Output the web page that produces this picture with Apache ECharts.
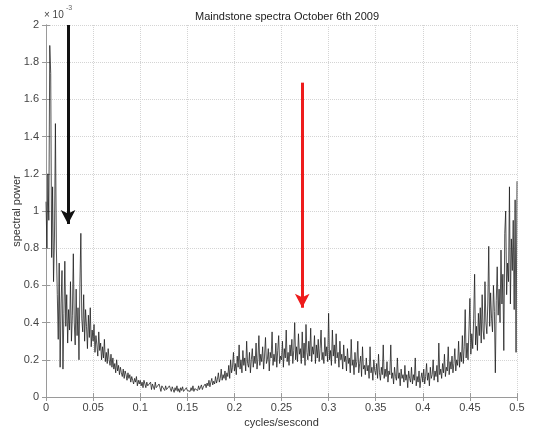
<!DOCTYPE html>
<html>
<head>
<meta charset="utf-8">
<script src="https://cdn.jsdelivr.net/npm/echarts@6/dist/echarts.min.js"></script>
<style>html,body{margin:0;padding:0;background:#fff;}#c{width:540px;height:432px;}</style>
</head>
<body>
<div id="c"></div>
<script>
// Spectral power (x 10^-3), sampled every FREQ_STEP cycles/second from 0 to 0.5
const FREQ_STEP = 0.001;
const powerValues = [
  1.05, 0.8, 1.2, 0.95, 1.89, 1.74, 0.75, 1.13, 0.62, 0.86,
  1.47, 0.8, 0.55, 0.31, 0.72, 0.16, 0.5, 0.68, 0.15, 0.45,
  0.73, 0.38, 0.55, 0.29, 0.47, 0.36, 0.62, 0.3, 0.44, 0.77,
  0.4, 0.28, 0.58, 0.33, 0.48, 0.2, 0.6, 0.88, 0.42, 0.35,
  0.55, 0.3, 0.47, 0.38, 0.26, 0.44, 0.32, 0.48, 0.27, 0.36,
  0.3, 0.39, 0.24, 0.33, 0.28, 0.22, 0.35, 0.25, 0.29, 0.2,
  0.27, 0.21, 0.31, 0.19, 0.24, 0.18, 0.26, 0.2, 0.17, 0.23,
  0.16, 0.21, 0.15, 0.18, 0.13, 0.2, 0.14, 0.17, 0.12, 0.16,
  0.13, 0.11, 0.15, 0.1, 0.14, 0.12, 0.09, 0.13, 0.1, 0.12,
  0.08, 0.11, 0.09, 0.07, 0.1, 0.08, 0.11, 0.06, 0.09, 0.07,
  0.09, 0.06, 0.08, 0.05, 0.09, 0.07, 0.05, 0.08, 0.06, 0.07,
  0.05, 0.08, 0.04, 0.07, 0.06, 0.04, 0.08, 0.05, 0.06, 0.04,
  0.07, 0.05, 0.03, 0.06, 0.05, 0.07, 0.035, 0.06, 0.04, 0.05,
  0.03, 0.06, 0.045, 0.03, 0.055, 0.04, 0.025, 0.05, 0.035, 0.06,
  0.03, 0.045, 0.025, 0.05, 0.035, 0.055, 0.03, 0.04, 0.02, 0.05,
  0.035, 0.025, 0.045, 0.03, 0.05, 0.035, 0.06, 0.03, 0.045, 0.04,
  0.055, 0.035, 0.06, 0.04, 0.05, 0.065, 0.04, 0.055, 0.045, 0.07,
  0.05, 0.075, 0.06, 0.09, 0.055, 0.08, 0.1, 0.065, 0.085, 0.07,
  0.11, 0.075, 0.095, 0.13, 0.08, 0.1, 0.15, 0.09, 0.12, 0.1,
  0.14, 0.09, 0.13, 0.11, 0.17, 0.1, 0.2, 0.13, 0.16, 0.24,
  0.14, 0.18, 0.12, 0.22, 0.16, 0.28, 0.15, 0.2, 0.13, 0.25,
  0.17, 0.21, 0.14, 0.3, 0.18, 0.16, 0.24, 0.13, 0.2, 0.26,
  0.16, 0.22, 0.18, 0.29, 0.15, 0.21, 0.33, 0.17, 0.23, 0.19,
  0.27, 0.15, 0.22, 0.32, 0.18, 0.2, 0.26, 0.14, 0.24, 0.21,
  0.35, 0.17, 0.23, 0.19, 0.29, 0.16, 0.25, 0.33, 0.18, 0.22,
  0.2, 0.3, 0.16, 0.26, 0.21, 0.36, 0.19, 0.24, 0.17, 0.28,
  0.22, 0.31, 0.18, 0.25, 0.4, 0.2, 0.27, 0.19, 0.34, 0.23,
  0.26, 0.18, 0.35, 0.21, 0.29, 0.17, 0.39, 0.24, 0.2, 0.3,
  0.22, 0.37, 0.19, 0.27, 0.23, 0.33, 0.18, 0.28, 0.21, 0.31,
  0.19, 0.26, 0.36, 0.2, 0.24, 0.18, 0.32, 0.22, 0.27, 0.19,
  0.45, 0.2, 0.25, 0.17, 0.36, 0.22, 0.28, 0.18, 0.34, 0.21,
  0.24, 0.16, 0.3, 0.2, 0.23, 0.15, 0.28, 0.19, 0.22, 0.14,
  0.26, 0.18, 0.21, 0.13, 0.31, 0.17, 0.2, 0.12, 0.24, 0.16,
  0.19, 0.3, 0.13, 0.18, 0.22, 0.11, 0.27, 0.15, 0.17, 0.12,
  0.21, 0.14, 0.17, 0.1, 0.27, 0.13, 0.16, 0.09, 0.2, 0.14,
  0.12, 0.18, 0.1, 0.23, 0.13, 0.09, 0.16, 0.12, 0.28, 0.1,
  0.15, 0.11, 0.19, 0.08, 0.14, 0.12, 0.28, 0.1, 0.13, 0.07,
  0.16, 0.11, 0.09, 0.21, 0.1, 0.13, 0.06, 0.15, 0.1, 0.12,
  0.08, 0.17, 0.09, 0.12, 0.05, 0.14, 0.1, 0.08, 0.16, 0.07,
  0.12, 0.09, 0.21, 0.06, 0.11, 0.08, 0.14, 0.05, 0.1, 0.13,
  0.08, 0.15, 0.07, 0.11, 0.18, 0.09, 0.13, 0.06, 0.16, 0.1,
  0.12, 0.2, 0.09, 0.14, 0.11, 0.17, 0.08, 0.29, 0.12, 0.15,
  0.1, 0.18, 0.13, 0.23, 0.11, 0.16, 0.14, 0.27, 0.12, 0.19,
  0.15, 0.22, 0.13, 0.18, 0.26, 0.14, 0.2, 0.17, 0.3, 0.16,
  0.24, 0.19, 0.33, 0.18, 0.27, 0.47, 0.21, 0.29, 0.2, 0.36,
  0.53, 0.23, 0.34, 0.26, 0.42, 0.66, 0.28, 0.38, 0.25, 0.45,
  0.33, 0.48, 0.29, 0.55, 0.36, 0.31, 0.62, 0.4, 0.34, 0.5,
  0.81, 0.38, 0.56, 0.42, 0.35, 0.6, 0.46, 0.13, 0.52, 0.7,
  0.44, 0.58, 0.4, 0.79, 0.5, 0.66, 0.25, 0.88, 1.0, 0.55,
  0.72, 0.62, 1.13, 0.5, 0.85, 0.68, 0.95, 0.47, 1.06, 0.24,
  1.16
];
const xTicks = { min: 0, max: 0.5, interval: 0.05 };
const yTicks = { min: 0, max: 2, interval: 0.2 };
const blackArrow = { x: 0.0234, from: 2.0, to: 0.93 };
const redArrow = { x: 0.272, from: 1.69, to: 0.48 };

const seriesData = powerValues.map((v, i) => [+(i * FREQ_STEP).toFixed(4), v]);

const FONT = 'Liberation Sans, Arial, sans-serif';
const fmt = v => String(+v.toFixed(2));
const chart = echarts.init(document.getElementById('c'), null, { renderer: 'canvas' });
const frameColor = '#9a9a9a';
chart.setOption({
  animation: false,
  backgroundColor: '#fff',
  title: {
    text: 'Maindstone spectra October 6th 2009',
    left: 282, top: 6, textAlign: 'center',
    textStyle: { fontFamily: FONT, fontSize: 11, fontWeight: 'normal', color: '#222' }
  },
  grid: { left: 46, right: 23, top: 25, bottom: 35, containLabel: false, outerBoundsMode: 'none' },
  xAxis: [{
    type: 'value', min: xTicks.min, max: xTicks.max, interval: xTicks.interval,
    name: 'cycles/sescond', nameLocation: 'middle', nameGap: 20, nameMoveOverlap: false,
    nameTextStyle: { fontFamily: FONT, fontSize: 11, color: '#333' },
    axisLine: { lineStyle: { color: frameColor, width: 1 } },
    axisTick: { inside: true, length: 4, lineStyle: { color: frameColor } },
    axisLabel: { fontFamily: FONT, fontSize: 11, color: '#444', margin: 5, formatter: fmt },
    splitLine: { show: true, lineStyle: { color: '#d4d4d4', type: 'dotted' } }
  }, {
    type: 'value', position: 'top', min: xTicks.min, max: xTicks.max, interval: xTicks.interval,
    axisLine: { lineStyle: { color: frameColor, width: 1 } },
    axisTick: { inside: true, length: 4, lineStyle: { color: frameColor } },
    axisLabel: { show: false }, splitLine: { show: false }
  }],
  yAxis: [{
    type: 'value', min: yTicks.min, max: yTicks.max, interval: yTicks.interval,
    name: 'spectral power', nameLocation: 'middle', nameGap: 24, nameMoveOverlap: false,
    nameTextStyle: { fontFamily: FONT, fontSize: 11, color: '#333' },
    axisLine: { show: true, lineStyle: { color: frameColor, width: 1 } },
    axisTick: { show: true, inside: true, length: 4, lineStyle: { color: frameColor } },
    axisLabel: { fontFamily: FONT, fontSize: 11, color: '#444', margin: 7, formatter: fmt },
    splitLine: { show: true, lineStyle: { color: '#d4d4d4', type: 'dotted' } }
  }, {
    type: 'value', position: 'right', min: yTicks.min, max: yTicks.max, interval: yTicks.interval,
    axisLine: { show: true, lineStyle: { color: frameColor, width: 1 } },
    axisTick: { show: true, inside: true, length: 4, lineStyle: { color: frameColor } },
    axisLabel: { show: false }, splitLine: { show: false }
  }],
  graphic: [
    { type: 'text', left: 44, top: 10, style: { text: '× 10', fontFamily: FONT, fontSize: 10, fill: '#444' } },
    { type: 'text', left: 66, top: 5, style: { text: '-3', fontFamily: FONT, fontSize: 7, fill: '#666' } }
  ],
  series: [{
    type: 'line',
    data: seriesData,
    showSymbol: false,
    symbol: 'none',
    clip: false,
    silent: true,
    lineStyle: { color: '#1a1a1a', width: 0.9, opacity: 0.85 },
    markLine: {
      silent: true,
      symbol: ['none', 'arrow'],
      symbolSize: [11, 14],
      label: { show: false },
      emphasis: { disabled: true },
      data: [
        [{ coord: [blackArrow.x, blackArrow.from], lineStyle: { color: '#111', width: 3, type: 'solid' } },
         { coord: [blackArrow.x, blackArrow.to] }],
        [{ coord: [redArrow.x, redArrow.from], lineStyle: { color: '#ee1c1c', width: 3, type: 'solid' } },
         { coord: [redArrow.x, redArrow.to] }]
      ]
    }
  }]
});
</script>
</body>
</html>
